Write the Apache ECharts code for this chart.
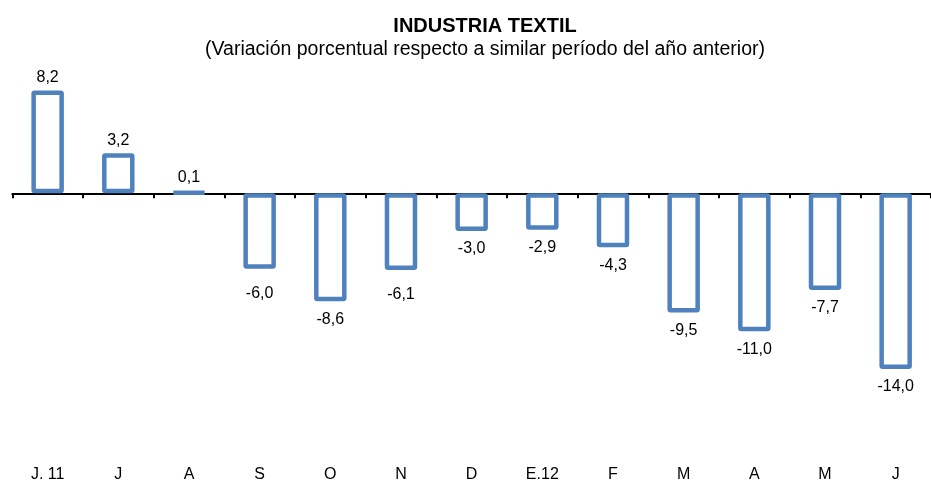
<!DOCTYPE html>
<html>
<head>
<meta charset="utf-8">
<script src="https://cdn.jsdelivr.net/npm/echarts@6/dist/echarts.min.js"></script>
<style>
  html, body { margin: 0; padding: 0; background: #fff; }
  #chart { width: 931px; height: 483px; }
</style>
</head>
<body>
<div id="chart"></div>
<script>
// meses (jun 2011 - jun 2012)
const months = ["J. 11", "J", "A", "S", "O", "N", "D", "E.12", "F", "M", "A", "M", "J"];
// variación porcentual
const values = [8.2, 3.2, 0.1, -6.0, -8.6, -6.1, -3.0, -2.9, -4.3, -9.5, -11.0, -7.7, -14.0];

const font = "'Liberation Sans', Arial, sans-serif";
// en el original las etiquetas de S y N están algo más abajo
const extraDist = { 3: 7, 5: 7 };

const chart = echarts.init(document.getElementById("chart"));

const option = {
  animation: false,
  title: {
    text: "INDUSTRIA TEXTIL",
    subtext: "(Variación porcentual respecto a similar período del año anterior)",
    left: 480,
    top: 11,
    textAlign: "center",
    itemGap: 4,
    textStyle: { fontFamily: font, fontSize: 20, fontWeight: "bold", color: "#000" },
    subtextStyle: { fontFamily: font, fontSize: 19.5, color: "#000" },
  },
  grid: {
    left: 12.3,
    top: 90.5,
    width: 928.2,
    height: 283.7,
  },
  xAxis: [
    {
      type: "category",
      data: months,
      axisLine: { onZero: true, lineStyle: { color: "#000", width: 2 } },
      axisTick: { show: true, interval: 0, length: 5, lineStyle: { color: "#000", width: 2 } },
      axisLabel: { show: false },
    },
    {
      type: "category",
      data: months,
      position: "bottom",
      offset: 90,
      axisLine: { show: false, onZero: false },
      axisTick: { show: false },
      axisLabel: { interval: 0, margin: 8, fontFamily: font, fontSize: 16, color: "#000" },
    },
  ],
  yAxis: {
    type: "value",
    min: -14,
    max: 8.2,
    show: false,
  },
  series: [
    {
      type: "bar",
      barWidth: 32.5,
      itemStyle: {
        color: "#fff",
        borderColor: "#4F81BD",
        borderWidth: 4.5,
        borderRadius: 1,
      },
      data: values.map((v, i) => ({
        value: v,
        label: {
          show: true,
          position: v >= 0 ? "top" : "bottom",
          distance: (v >= 0 ? 5 : 10) + (extraDist[i] || 0),
          fontFamily: font,
          fontSize: 16,
          color: "#000",
          formatter: () => v.toFixed(1).replace(".", ","),
        },
      })),
    },
  ],
};

chart.setOption(option);
</script>
</body>
</html>
